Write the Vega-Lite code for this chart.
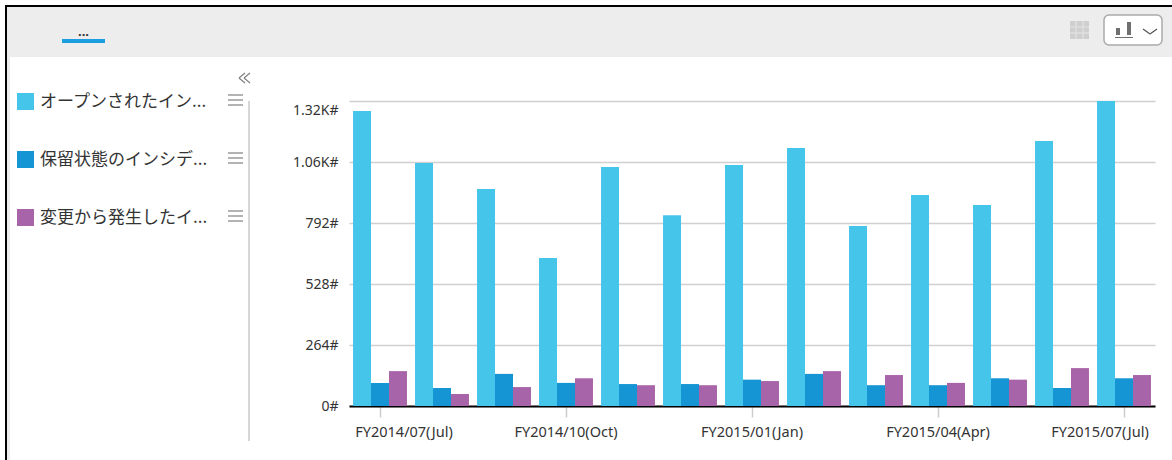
{"$schema":"https://vega.github.io/schema/vega-lite/v6.json","width":806,"height":305,"autosize":"none","padding":{"left":349,"top":101,"right":17,"bottom":54},"background":"white","config":{"view":{"stroke":null},"font":"Noto Sans"},"datasets":{"bars":[
{"month":"FY2014/07(Jul)","series":"オープンされたイン...","count":1277},{"month":"FY2014/07(Jul)","series":"保留状態のインシデ...","count":100},{"month":"FY2014/07(Jul)","series":"変更から発生したイ...","count":151},
{"month":"FY2014/08(Aug)","series":"オープンされたイン...","count":1052},{"month":"FY2014/08(Aug)","series":"保留状態のインシデ...","count":78},{"month":"FY2014/08(Aug)","series":"変更から発生したイ...","count":52},
{"month":"FY2014/09(Sep)","series":"オープンされたイン...","count":939},{"month":"FY2014/09(Sep)","series":"保留状態のインシデ...","count":139},{"month":"FY2014/09(Sep)","series":"変更から発生したイ...","count":82},
{"month":"FY2014/10(Oct)","series":"オープンされたイン...","count":640},{"month":"FY2014/10(Oct)","series":"保留状態のインシデ...","count":100},{"month":"FY2014/10(Oct)","series":"変更から発生したイ...","count":120},
{"month":"FY2014/11(Nov)","series":"オープンされたイン...","count":1034},{"month":"FY2014/11(Nov)","series":"保留状態のインシデ...","count":95},{"month":"FY2014/11(Nov)","series":"変更から発生したイ...","count":90},
{"month":"FY2014/12(Dec)","series":"オープンされたイン...","count":826},{"month":"FY2014/12(Dec)","series":"保留状態のインシデ...","count":95},{"month":"FY2014/12(Dec)","series":"変更から発生したイ...","count":90},
{"month":"FY2015/01(Jan)","series":"オープンされたイン...","count":1043},{"month":"FY2015/01(Jan)","series":"保留状態のインシデ...","count":114},{"month":"FY2015/01(Jan)","series":"変更から発生したイ...","count":108},
{"month":"FY2015/02(Feb)","series":"オープンされたイン...","count":1117},{"month":"FY2015/02(Feb)","series":"保留状態のインシデ...","count":139},{"month":"FY2015/02(Feb)","series":"変更から発生したイ...","count":151},
{"month":"FY2015/03(Mar)","series":"オープンされたイン...","count":779},{"month":"FY2015/03(Mar)","series":"保留状態のインシデ...","count":90},{"month":"FY2015/03(Mar)","series":"変更から発生したイ...","count":134},
{"month":"FY2015/04(Apr)","series":"オープンされたイン...","count":913},{"month":"FY2015/04(Apr)","series":"保留状態のインシデ...","count":90},{"month":"FY2015/04(Apr)","series":"変更から発生したイ...","count":100},
{"month":"FY2015/05(May)","series":"オープンされたイン...","count":870},{"month":"FY2015/05(May)","series":"保留状態のインシデ...","count":120},{"month":"FY2015/05(May)","series":"変更から発生したイ...","count":114},
{"month":"FY2015/06(Jun)","series":"オープンされたイン...","count":1147},{"month":"FY2015/06(Jun)","series":"保留状態のインシデ...","count":78},{"month":"FY2015/06(Jun)","series":"変更から発生したイ...","count":164},
{"month":"FY2015/07(Jul)","series":"オープンされたイン...","count":1320},{"month":"FY2015/07(Jul)","series":"保留状態のインシデ...","count":120},{"month":"FY2015/07(Jul)","series":"変更から発生したイ...","count":134}
],"panels":[
{"part":"header","x":7,"x2":1172,"y":7,"y2":57},
{"part":"header","x":7,"x2":10,"y":57,"y2":460},
{"part":"border","x":5,"x2":1172,"y":5,"y2":7},
{"part":"border","x":5,"x2":7,"y":5,"y2":460},
{"part":"tab","x":62,"x2":105,"y":39,"y2":43},
{"part":"table","x":1070,"x2":1089,"y":21,"y2":39}
],"icons":[
{"x":1116,"x2":1120,"y":28,"y2":35},
{"x":1127,"x2":1131,"y":22,"y2":35},
{"x":1115,"x2":1133,"y":37,"y2":38}
],"strokes":[
{"part":"divider","x":249,"x2":249,"y":101,"y2":441},
{"part":"menu","x":228,"x2":243,"y":95,"y2":95},{"part":"menu","x":228,"x2":243,"y":100,"y2":100},{"part":"menu","x":228,"x2":243,"y":105,"y2":105},
{"part":"menu","x":228,"x2":243,"y":153,"y2":153},{"part":"menu","x":228,"x2":243,"y":158,"y2":158},{"part":"menu","x":228,"x2":243,"y":163,"y2":163},
{"part":"menu","x":228,"x2":243,"y":211,"y2":211},{"part":"menu","x":228,"x2":243,"y":216,"y2":216},{"part":"menu","x":228,"x2":243,"y":221,"y2":221},
{"part":"menu","x":245,"x2":239,"y":73,"y2":78},{"part":"menu","x":239,"x2":245,"y":78,"y2":83},{"part":"menu","x":250,"x2":244,"y":73,"y2":78},{"part":"menu","x":244,"x2":250,"y":78,"y2":83},
{"part":"chevron","x":1143,"x2":1150,"y":29,"y2":34},{"part":"chevron","x":1150,"x2":1157,"y":34,"y2":29},
{"part":"gridline","x":1076,"x2":1076,"y":21,"y2":39},{"part":"gridline","x":1083,"x2":1083,"y":21,"y2":39},{"part":"gridline","x":1070,"x2":1089,"y":27,"y2":27},{"part":"gridline","x":1070,"x2":1089,"y":33,"y2":33}
]},
"layer":[
{"encoding":{"x":{"field":"x","type":"quantitative","axis":null,"scale":{"domain":[0,1172],"range":[-349,823],"nice":false,"zero":false}},"y":{"field":"y","type":"quantitative","axis":null,"scale":{"domain":[0,460],"range":[-101,359],"nice":false,"zero":false}}},
"layer":[
{"data":{"name":"panels"},"mark":{"type":"rect","clip":false},"encoding":{"x2":{"field":"x2"},"y2":{"field":"y2"},"color":{"field":"part","type":"nominal","legend":null,"scale":{"domain":["header","border","tab","table","divider","menu","chevron","gridline"],"range":["#EDEDED","#000000","#1B9FE0","#CFCFCF","#BBBBBB","#808080","#555555","#E2E2E2"]}}}},
{"data":{"values":[{"x":1104,"x2":1162,"y":15,"y2":45}]},"mark":{"type":"rect","fill":"white","stroke":"#AAAAAA","strokeWidth":1.5,"cornerRadius":5},"encoding":{"x2":{"field":"x2"},"y2":{"field":"y2"}}},
{"data":{"name":"icons"},"mark":{"type":"rect","fill":"#707070"},"encoding":{"x2":{"field":"x2"},"y2":{"field":"y2"}}},
{"data":{"name":"strokes"},"mark":{"type":"rule","strokeWidth":1.2},"encoding":{"x2":{"field":"x2"},"y2":{"field":"y2"},"color":{"field":"part","type":"nominal","legend":null,"scale":{"domain":["header","border","tab","table","divider","menu","chevron","gridline"],"range":["#EDEDED","#000000","#1B9FE0","#CFCFCF","#BBBBBB","#808080","#555555","#E2E2E2"]}}}},
{"data":{"values":[{"x":83.5,"y":32,"label":"..."}]},"mark":{"type":"text","fontSize":13,"fontWeight":"bold","color":"#333333","align":"center"},"encoding":{"text":{"field":"label"}}}
]},
{"data":{"name":"bars"},"mark":{"type":"bar"},"encoding":{
"x":{"field":"month","type":"nominal","sort":null,"title":null,"scale":{"paddingInner":0.13,"paddingOuter":0.065},"axis":{"values":["FY2014/07(Jul)","FY2014/10(Oct)","FY2015/01(Jan)","FY2015/04(Apr)","FY2015/07(Jul)"],"labelAngle":0,"labelFontSize":14.5,"labelColor":"#333333","labelPadding":8,"tickColor":"#CCCCCC","tickSize":11,"tickWidth":1.5,"domainColor":"#000000","domainWidth":2,"grid":false,"labelOverlap":false,"labelOffset":{"condition":[{"test":"datum.label==='FY2014/07(Jul)'","value":24},{"test":"datum.label==='FY2015/07(Jul)'","value":-24}],"value":0}}},
"xOffset":{"field":"series","type":"nominal","sort":null},
"y":{"field":"count","type":"quantitative","title":null,"scale":{"domain":[0,1320],"nice":false},"axis":{"values":[0,264,528,792,1056,1320],"labelExpr":"datum.value>=1000?format(datum.value/1000,'.2f')+'K#':datum.value+'#'","grid":true,"gridColor":"#D0D0D0","gridWidth":1.5,"domain":false,"ticks":false,"labelPadding":11,"labelFontSize":14,"labelColor":"#333333","labelOffset":{"condition":{"test":"datum.value===1320","value":9},"value":0}}},
"color":{"field":"series","type":"nominal","sort":null,"scale":{"range":["#45C5EA","#1595D3","#A864A8"]},"legend":{"title":null,"orient":"none","legendX":-332,"legendY":-8,"symbolType":"square","symbolSize":289,"symbolStrokeWidth":0,"symbolOpacity":1,"labelFont":"Noto Sans CJK JP","labelFontSize":17,"labelColor":"#333333","labelLimit":220,"rowPadding":40,"labelOffset":6}}
}}
],
"resolve":{"scale":{"x":"independent","y":"independent","color":"independent"}}}
